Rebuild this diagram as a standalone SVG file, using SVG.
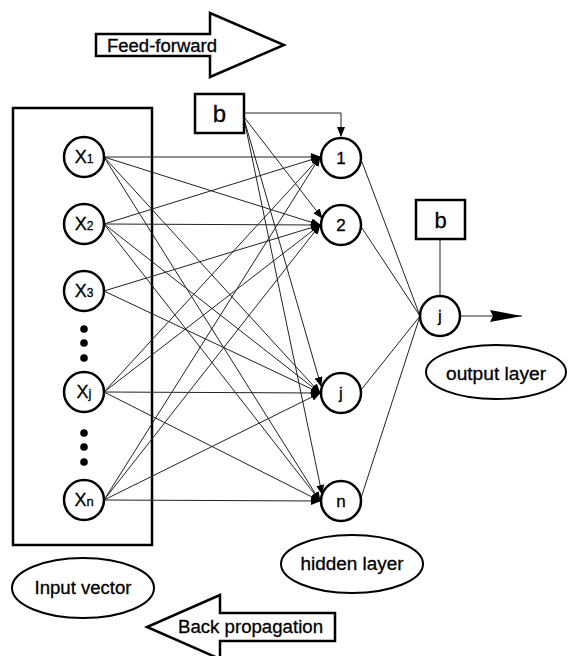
<svg xmlns="http://www.w3.org/2000/svg" width="568" height="656" viewBox="0 0 568 656">
<style>
.nd{fill:#fff;stroke:#000;stroke-width:2.5}
.bx{fill:#fff;stroke:#000;stroke-width:2.5}
.el{fill:#fff;stroke:#000;stroke-width:2}
.t{font-family:"Liberation Sans",Arial,sans-serif;fill:#000;stroke:#000;stroke-width:0.3}
.c line,.c path{stroke:#222;stroke-width:1;fill:none}
.dot{fill:#000}
</style>
<defs>
<marker id="ah" markerUnits="userSpaceOnUse" markerWidth="10" markerHeight="8" refX="9" refY="4" orient="auto">
<path d="M0,0 L10,4 L0,8 z" fill="#000"/>
</marker>
<marker id="big" markerUnits="userSpaceOnUse" markerWidth="32" markerHeight="12" refX="32" refY="6" orient="auto">
<path d="M0,0 L32,6 L0,12 L3,6 z" fill="#000"/>
</marker>
</defs>
<rect width="568" height="656" fill="#fff"/>

<g id="feed-forward">
<polygon points="96,34 210,34 210,13 284,45 210,77 210,56 96,56" fill="#fff" stroke="#000" stroke-width="2.5"/>
<text class="t" x="107" y="52" font-size="18" textLength="110" lengthAdjust="spacingAndGlyphs">Feed-forward</text>
</g>

<g id="back-propagation">
<polygon points="335,613 220,613 220,595 147,627 220,659 220,641 335,641" fill="#fff" stroke="#000" stroke-width="2.5"/>
<text class="t" x="178" y="633" font-size="18" textLength="145" lengthAdjust="spacingAndGlyphs">Back propagation</text>
</g>

<g id="input-box">
<rect x="13" y="108" width="139" height="437" fill="none" stroke="#000" stroke-width="2.5"/>
</g>

<g class="c" id="connectors">
<line x1="104" y1="157" x2="320" y2="157" marker-end="url(#ah)"/>
<line x1="104" y1="157" x2="320" y2="225" marker-end="url(#ah)"/>
<line x1="104" y1="157" x2="320" y2="393" marker-end="url(#ah)"/>
<line x1="104" y1="157" x2="320" y2="501" marker-end="url(#ah)"/>
<line x1="104" y1="224" x2="320" y2="157" marker-end="url(#ah)"/>
<line x1="104" y1="224" x2="320" y2="225" marker-end="url(#ah)"/>
<line x1="104" y1="224" x2="320" y2="393" marker-end="url(#ah)"/>
<line x1="104" y1="224" x2="320" y2="501" marker-end="url(#ah)"/>
<line x1="104" y1="291" x2="320" y2="225" marker-end="url(#ah)"/>
<line x1="104" y1="291" x2="320" y2="393" marker-end="url(#ah)"/>
<line x1="104" y1="392" x2="320" y2="157" marker-end="url(#ah)"/>
<line x1="104" y1="392" x2="320" y2="225" marker-end="url(#ah)"/>
<line x1="104" y1="392" x2="320" y2="393" marker-end="url(#ah)"/>
<line x1="104" y1="392" x2="320" y2="501" marker-end="url(#ah)"/>
<line x1="104" y1="500" x2="320" y2="157" marker-end="url(#ah)"/>
<line x1="104" y1="500" x2="320" y2="225" marker-end="url(#ah)"/>
<line x1="104" y1="500" x2="320" y2="393" marker-end="url(#ah)"/>
<line x1="104" y1="500" x2="320" y2="501" marker-end="url(#ah)"/>
<path d="M244,113 H341 V136" marker-end="url(#ah)"/>
<line x1="244" y1="117" x2="322" y2="218" marker-end="url(#ah)"/>
<line x1="244" y1="119" x2="321" y2="386" marker-end="url(#ah)"/>
<line x1="244" y1="119" x2="322" y2="494" marker-end="url(#ah)"/>
<line x1="362" y1="162" x2="420" y2="316"/>
<line x1="362" y1="228" x2="420" y2="316"/>
<line x1="361" y1="390" x2="420" y2="316"/>
<line x1="361" y1="498" x2="420" y2="316"/>
<line x1="440" y1="239" x2="440" y2="296"/>
<line x1="460" y1="316" x2="522" y2="316" stroke-width="1.5" marker-end="url(#big)"/>
</g>

<g id="x1"><circle class="nd" cx="84" cy="157" r="20"/><text class="t" x="84" y="163" font-size="18" text-anchor="middle">X<tspan font-size="12">1</tspan></text></g>
<g id="x2"><circle class="nd" cx="84" cy="224" r="20"/><text class="t" x="84" y="230" font-size="18" text-anchor="middle">X<tspan font-size="12">2</tspan></text></g>
<g id="x3"><circle class="nd" cx="84" cy="291" r="20"/><text class="t" x="84" y="297" font-size="18" text-anchor="middle">X<tspan font-size="12">3</tspan></text></g>
<g id="dots1"><circle class="dot" cx="84" cy="329" r="3.8"/><circle class="dot" cx="84" cy="343" r="3.8"/><circle class="dot" cx="84" cy="358" r="3.8"/></g>
<g id="xj"><circle class="nd" cx="84" cy="392" r="20"/><text class="t" x="84" y="398" font-size="18" text-anchor="middle">X<tspan font-size="13">j</tspan></text></g>
<g id="dots2"><circle class="dot" cx="84" cy="433" r="3.8"/><circle class="dot" cx="84" cy="447" r="3.8"/><circle class="dot" cx="84" cy="462" r="3.8"/></g>
<g id="xn"><circle class="nd" cx="84" cy="500" r="20"/><text class="t" x="84" y="506" font-size="18" text-anchor="middle">X<tspan font-size="13">n</tspan></text></g>

<g id="bias-hidden"><rect class="bx" x="195" y="94" width="49" height="39"/><text class="t" x="219.5" y="122" font-size="24" text-anchor="middle">b</text></g>

<g id="h1"><circle class="nd" cx="341" cy="158" r="20"/><text class="t" x="341" y="164" font-size="17" text-anchor="middle">1</text></g>
<g id="h2"><circle class="nd" cx="341" cy="225" r="20"/><text class="t" x="341" y="231" font-size="17" text-anchor="middle">2</text></g>
<g id="hj"><circle class="nd" cx="341" cy="393" r="20"/><text class="t" x="341" y="399" font-size="17" text-anchor="middle">j</text></g>
<g id="hn"><circle class="nd" cx="341" cy="501" r="20"/><text class="t" x="341" y="507" font-size="17" text-anchor="middle">n</text></g>

<g id="bias-output"><rect class="bx" x="416" y="200" width="49" height="39"/><text class="t" x="440.5" y="228" font-size="22" text-anchor="middle">b</text></g>
<g id="out-j"><circle class="nd" cx="440" cy="316" r="20"/><text class="t" x="440" y="322" font-size="17" text-anchor="middle">j</text></g>

<g id="output-layer"><ellipse class="el" cx="496" cy="372" rx="70" ry="27"/><text class="t" x="496" y="380" font-size="18" text-anchor="middle" textLength="100" lengthAdjust="spacingAndGlyphs">output layer</text></g>
<g id="hidden-layer"><ellipse class="el" cx="352" cy="564" rx="71" ry="29"/><text class="t" x="352" y="570" font-size="18" text-anchor="middle" textLength="103" lengthAdjust="spacingAndGlyphs">hidden layer</text></g>
<g id="input-vector"><ellipse class="el" cx="83" cy="588" rx="71" ry="30"/><text class="t" x="83" y="594" font-size="18" text-anchor="middle" textLength="97" lengthAdjust="spacingAndGlyphs">Input vector</text></g>
</svg>
